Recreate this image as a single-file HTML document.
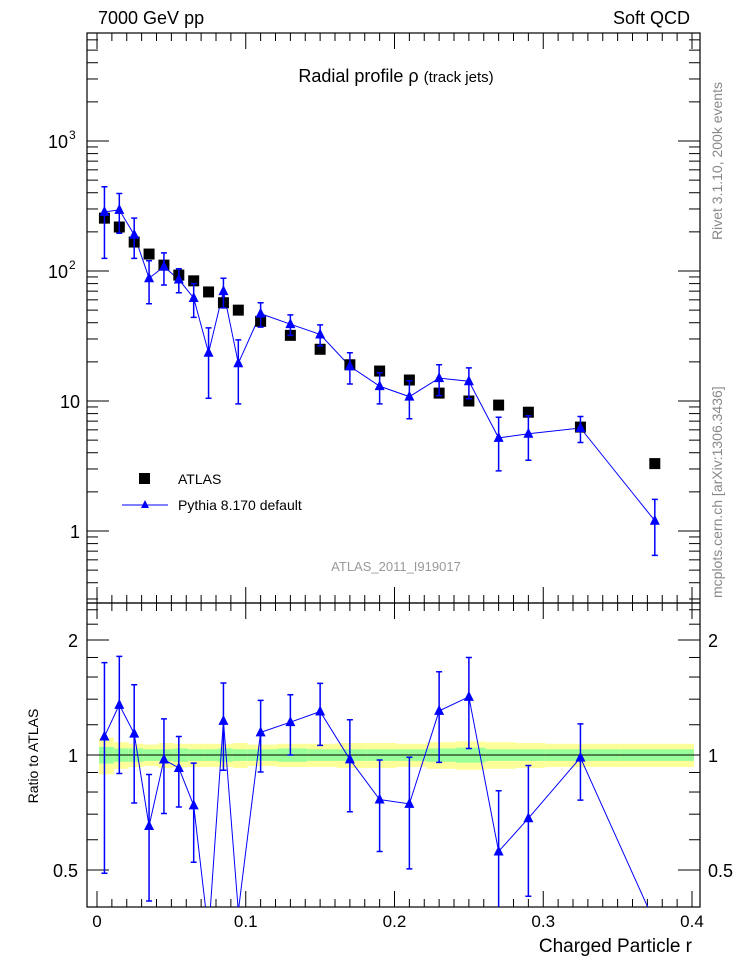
<!DOCTYPE html>
<html><head><meta charset="utf-8"><style>
body{margin:0;background:#fff;}
svg{display:block;font-family:"Liberation Sans",sans-serif;}
</style></head><body>
<svg id="chart" width="746" height="972" viewBox="0 0 746 972">
<text x="98" y="24" font-size="18">7000 GeV pp</text>
<text x="690" y="24" font-size="18" text-anchor="end">Soft QCD</text>
<text x="396" y="82" font-size="18" text-anchor="middle">Radial profile  ρ <tspan font-size="15">(track jets)</tspan></text>
<text transform="translate(722,240) rotate(-90)" font-size="14" fill="#888">Rivet 3.1.10,  200k events</text>
<text transform="translate(722,598) rotate(-90)" font-size="14" fill="#888">mcplots.cern.ch [arXiv:1306.3436]</text>
<text x="396" y="571" font-size="13" fill="#999" text-anchor="middle">ATLAS_2011_I919017</text>
<text transform="translate(38,756) rotate(-90)" font-size="14" text-anchor="middle">Ratio to ATLAS</text>
<text x="692" y="952" font-size="19" text-anchor="end">Charged Particle r</text>
<g id="bands"></g><g id="axes"></g><g id="marks"></g>
<g>
<rect x="139" y="473" width="11" height="11" fill="#000"/>
<text x="178" y="484" font-size="14">ATLAS</text>
<line x1="122" y1="505" x2="168" y2="505" stroke="#00f"/>
<polygon points="145,500 149,508 141,508" fill="#00f"/>
<text x="178" y="510" font-size="14">Pythia 8.170 default</text>
</g>
</svg>
<script>
const xs=[0.005,0.015,0.025,0.035,0.045,0.055,0.065,0.075,0.085,0.095,0.11,0.13,0.15,0.17,0.19,0.21,0.23,0.25,0.27,0.29,0.325,0.375];
const xEdges=[0,0.01,0.02,0.03,0.04,0.05,0.06,0.07,0.08,0.09,0.1,0.12,0.14,0.16,0.18,0.2,0.22,0.24,0.26,0.28,0.3,0.35,0.4];
const atlas=[255,218,167,135,111,93,84,69,57,50,41,32,25,19,17,14.5,11.5,10,9.3,8.2,6.3,3.3];
const atlasStat=[0.05,0.04,0.04,0.035,0.035,0.04,0.035,0.035,0.04,0.035,0.035,0.04,0.035,0.035,0.035,0.035,0.04,0.045,0.035,0.035,0.035,0.035];
const atlasTot=[0.11,0.08,0.07,0.065,0.075,0.07,0.07,0.07,0.07,0.075,0.065,0.07,0.07,0.075,0.075,0.07,0.08,0.085,0.08,0.075,0.07,0.07];
const pythia=[285,295,190,88,108,86,62,23.5,70,19.5,47,39,32.5,18.5,13,10.8,15,14.2,5.2,5.6,6.2,1.2];
const pythiaErr=[160,100,65,32,30,18,18,13,18,10,10,7,6,5,3.5,3.5,4,3.8,2.3,2.1,1.4,0.55];
const xTicks=[0,0.1,0.2,0.3,0.4];
const ratioTicks=[0.5,1,2];
const NS='http://www.w3.org/2000/svg';
const L=87,R=700,T=33,MB=603,RB=907;
const X=v=>97+v*1487.5;
const Y=v=>531-Math.log10(v)*130;
const YR=v=>755-Math.log2(v)*115;
function mk(p,tag,at){const e=document.createElementNS(NS,tag);for(const k in at)e.setAttribute(k,at[k]);document.getElementById(p).appendChild(e);return e;}
for(let i=0;i<xs.length;i++){
 const x1=X(xEdges[i])+2,x2=X(xEdges[i+1])+2;
 let e=mk('bands','rect',{x:x1,y:YR(1+atlasTot[i]),width:x2-x1,height:YR(1-atlasTot[i])-YR(1+atlasTot[i]),fill:'#ffff99'});
 
 
 e=mk('bands','rect',{x:x1,y:YR(1+atlasStat[i]),width:x2-x1,height:YR(1-atlasStat[i])-YR(1+atlasStat[i]),fill:'#99ff99'});
 
 
}
let e=mk('axes','line',{x1:L,y1:YR(1),x2:R,y2:YR(1),stroke:'#000'});


for(const [t,b] of [[T,MB],[MB,RB]]){
 e=mk('axes','rect',{x:L,y:t,width:R-L,height:b-t,fill:'none',stroke:'#000','stroke-width':1.2});
 
 
}
for(let v=0;v<=0.4001;v+=0.01){
 const big=Math.abs(v*10-Math.round(v*10))<1e-6, x=X(v);
 const len=big?16:8;
 for(const [y0,d] of [[T,1],[MB,-1],[MB,1],[RB,-1]]) mk('axes','line',{x1:x,y1:y0,x2:x,y2:y0+d*len,stroke:'#000'});
}
for(const v of xTicks){
 e=mk('axes','text',{x:X(v),y:927,'font-size':17,'text-anchor':'middle'});e.textContent=(v===0?'0':v.toFixed(1));
 
 
}
for(let d=-1;d<=3;d++)for(let m=1;m<10;m++){
 const v=m*Math.pow(10,d), y=Y(v); if(y<T||y>MB) continue;
 const len=m===1?22:11;
 mk('axes','line',{x1:L,y1:y,x2:L+len,y2:y,stroke:'#000'});
 mk('axes','line',{x1:R,y1:y,x2:R-len,y2:y,stroke:'#000'});
}
const yl=[[1,'1'],[10,'10'],[100,'10'],[1000,'10']];
yl.forEach(([v,s],i)=>{
 const t=mk('axes','text',{x:i>1?68:80,y:Y(v)+7,'font-size':18,'text-anchor':'end'});t.textContent=s;
 
 
 if(i>1){const sp=mk('axes','text',{x:69,y:Y(v)-2,'font-size':12});sp.textContent=i===2?'2':'3';}
});
for(const v of [0.4,0.5,0.6,0.7,0.8,0.9,1,1.2,1.4,1.6,1.8,2,2.2,2.4]){
 const y=YR(v), len=ratioTicks.includes(v)?22:11;
 mk('axes','line',{x1:L,y1:y,x2:L+len,y2:y,stroke:'#000'});
 mk('axes','line',{x1:R,y1:y,x2:R-len,y2:y,stroke:'#000'});
}
for(const v of ratioTicks){
 for(const [x,a] of [[78,'end'],[708,'start']]){
  const t=mk('axes','text',{x:x,y:YR(v)+7,'font-size':18,'text-anchor':a});t.textContent=String(v);
  
  
 }
}
const cp=mk('axes','clipPath',{id:'cr'});const cr=document.createElementNS(NS,'rect');
cr.setAttribute('x',L);cr.setAttribute('y',MB);cr.setAttribute('width',R-L);cr.setAttribute('height',RB-MB);cp.appendChild(cr);
function tri(x,y,name){const p=mk('marks','polygon',{points:`${x},${y-6} ${x+5},${y+4} ${x-5},${y+4}`,fill:'#00f'});
 
 }
let pts=xs.map((x,i)=>X(x)+','+Y(pythia[i])).join(' ');
e=mk('marks','polyline',{points:pts,fill:'none',stroke:'#00f'});


const ratio=pythia.map((p,i)=>p/atlas[i]);
e=mk('marks','polyline',{points:xs.map((x,i)=>X(x)+','+YR(ratio[i])).join(' '),fill:'none',stroke:'#00f','clip-path':'url(#cr)'});


xs.forEach((xv,i)=>{
 const x=X(xv);
 let r=mk('marks','rect',{x:x-5.5,y:Y(atlas[i])-5.5,width:11,height:11,fill:'#000'});
 
 
 const lo=Math.max(pythia[i]-pythiaErr[i],0.31),hi=pythia[i]+pythiaErr[i];
 let g=mk('marks','path',{d:`M${x},${Y(hi)}V${Y(lo)}M${x-3},${Y(hi)}h6M${x-3},${Y(lo)}h6`,stroke:'#00f','stroke-width':1.5,fill:'none'});
 
 
 tri(x,Y(pythia[i]),'pythia-point');
 if(ratio[i]>0.42){
  const rl=Math.max((pythia[i]-pythiaErr[i])/atlas[i],0.3),rh=(pythia[i]+pythiaErr[i])/atlas[i];
  g=mk('marks','path',{d:`M${x},${YR(rh)}V${YR(rl)}M${x-3},${YR(rh)}h6M${x-3},${YR(rl)}h6`,stroke:'#00f','stroke-width':1.5,fill:'none','clip-path':'url(#cr)'});
  
  
  tri(x,YR(ratio[i]),'ratio-point');
 }
});
</script>
</body></html>
